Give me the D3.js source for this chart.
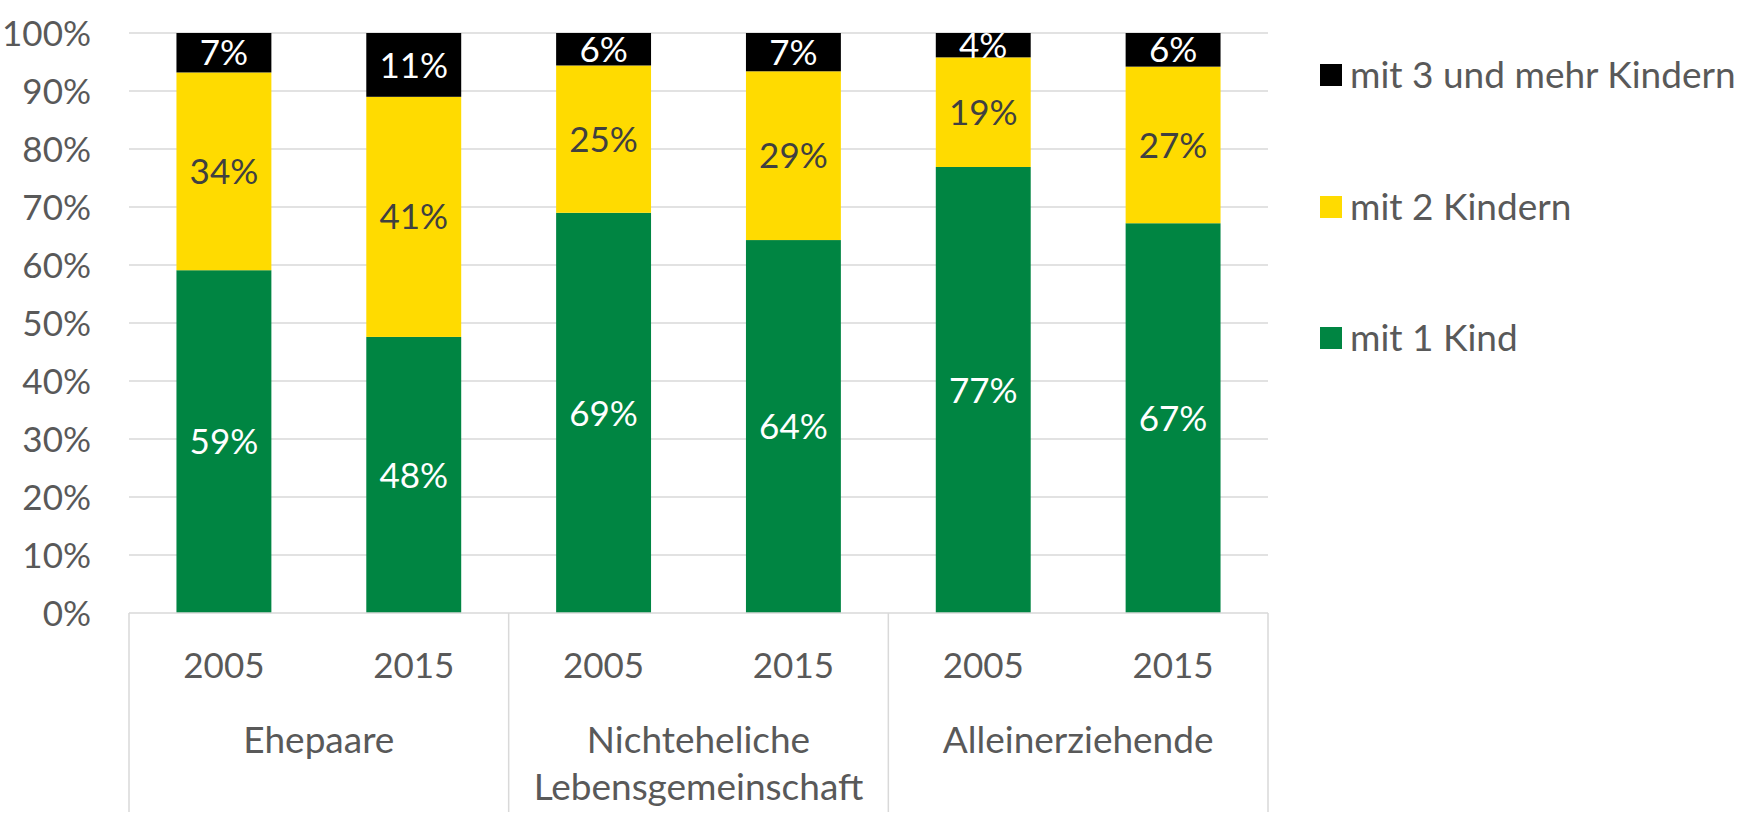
<!DOCTYPE html>
<html>
<head>
<meta charset="utf-8">
<script src="https://cdn.jsdelivr.net/npm/d3@7"></script>
<style>
  html, body { margin: 0; padding: 0; background: #ffffff; }
  svg { display: block; }
  text { font-family: Lato, "Open Sans", sans-serif; }
</style>
</head>
<body>
<svg id="chart" width="1759" height="822"></svg>
<script>
// ---- Data ----
const groups = ["Ehepaare", "Nichteheliche\nLebensgemeinschaft", "Alleinerziehende"];
const years = ["2005", "2015"];
const seriesNames = ["mit 1 Kind", "mit 2 Kindern", "mit 3 und mehr Kindern"];
const mit1Kind = [59.1, 47.6, 69.0, 64.3, 76.9, 67.2];
const mit2Kindern = [34.1, 41.4, 25.4, 29.1, 18.9, 27.0];
const mit3Kindern = [6.8, 11.0, 5.6, 6.6, 4.2, 5.8];
const yTicks = [0, 10, 20, 30, 40, 50, 60, 70, 80, 90, 100];
const colors = ["#008542", "#FFDB00", "#000000"];
const labelColors = ["#ffffff", "#404040", "#ffffff"];

// ---- Build table ----
const rows = [];
groups.forEach((g, gi) => years.forEach((yr, yi) => {
  const i = gi * years.length + yi;
  rows.push({ idx: i, group: g, year: yr, s0: mit1Kind[i], s1: mit2Kindern[i], s2: mit3Kindern[i] });
}));

const svg = d3.select("#chart");
const plotL = 129, plotR = 1268, plotT = 33, plotB = 613;

const x = d3.scaleBand().domain(rows.map(d => d.idx)).range([plotL, plotR]).paddingInner(0.5).paddingOuter(0.25);
const y = d3.scaleLinear().domain([0, 100]).range([plotB, plotT]);

const textColor = "#595959";
const gridColor = "#d9d9d9";
const fsNum = 35;
const fsText = 37;

// gridlines
svg.append("g").selectAll("line").data(yTicks.filter(t => t > 0)).join("line")
  .attr("x1", plotL).attr("x2", plotR)
  .attr("y1", d => y(d)).attr("y2", d => y(d))
  .attr("stroke", gridColor).attr("stroke-width", 1.5);

// y tick labels
svg.append("g").selectAll("text").data(yTicks).join("text")
  .attr("x", 91).attr("y", d => y(d))
  .attr("text-anchor", "end").attr("dy", "0.36em")
  .attr("font-size", fsNum).attr("fill", textColor)
  .text(d => d + "%");

// stacked bars
const keys = ["s0", "s1", "s2"];
const stacked = d3.stack().keys(keys)(rows);
const layer = svg.append("g").selectAll("g").data(stacked).join("g")
  .attr("fill", (d, i) => colors[i]);
layer.selectAll("rect").data(d => d).join("rect")
  .attr("x", d => x(d.data.idx))
  .attr("width", x.bandwidth())
  .attr("y", d => y(d[1]))
  .attr("height", d => y(d[0]) - y(d[1]));

// data labels
stacked.forEach((s, si) => {
  svg.append("g").selectAll("text").data(s).join("text")
    .attr("x", d => x(d.data.idx) + x.bandwidth() / 2)
    .attr("y", d => (y(d[0]) + y(d[1])) / 2)
    .attr("text-anchor", "middle").attr("dy", "0.36em")
    .attr("font-size", fsNum).attr("fill", labelColors[si])
    .text(d => Math.round(d[1] - d[0]) + "%");
});

// x axis lines
const step = x.step();
const axisG = svg.append("g").attr("stroke", gridColor).attr("stroke-width", 1.5);
axisG.append("line").attr("x1", plotL).attr("x2", plotR).attr("y1", plotB).attr("y2", plotB);
const boundaries = d3.range(groups.length + 1).map(g => plotL + g * years.length * step);
axisG.selectAll(".sep").data(boundaries).join("line")
  .attr("x1", d => d).attr("x2", d => d)
  .attr("y1", plotB).attr("y2", 812);

// year labels
svg.append("g").selectAll("text").data(rows).join("text")
  .attr("x", d => x(d.idx) + x.bandwidth() / 2)
  .attr("y", 665).attr("dy", "0.36em")
  .attr("text-anchor", "middle")
  .attr("font-size", fsNum).attr("fill", textColor)
  .text(d => d.year);

// group labels
groups.forEach((g, gi) => {
  const cx = (boundaries[gi] + boundaries[gi + 1]) / 2;
  const lines = g.split("\n");
  const t = svg.append("text")
    .attr("text-anchor", "middle")
    .attr("font-size", fsText).attr("fill", textColor);
  lines.forEach((ln, li) => {
    t.append("tspan").attr("x", cx).attr("y", 740 + li * 47).attr("dy", "0.36em").text(ln);
  });
});

// legend (top to bottom: 3, 2, 1)
const legendOrder = [2, 1, 0];
const legendY = [75, 207, 338];
const lg = svg.append("g");
legendOrder.forEach((si, k) => {
  lg.append("rect").attr("x", 1320).attr("y", legendY[k] - 11)
    .attr("width", 22).attr("height", 22).attr("fill", colors[si]);
  lg.append("text").attr("x", 1350).attr("y", legendY[k]).attr("dy", "0.36em")
    .attr("font-size", fsText).attr("fill", textColor)
    .text(seriesNames[si]);
});
</script>
</body>
</html>
